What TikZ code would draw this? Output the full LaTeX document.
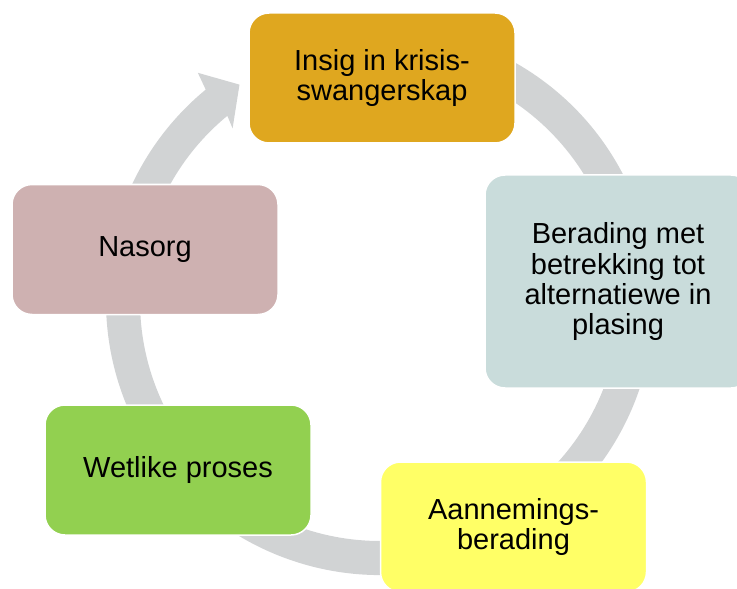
\documentclass[tikz,border=0pt]{standalone}
\usepackage{fontspec}
\setmainfont{Liberation Sans}
\usepackage{tikz}
\usetikzlibrary{positioning}
\usepackage{xcolor}

\definecolor{ringgray}{HTML}{D1D3D4}
\definecolor{insiggold}{HTML}{DFA71F}
\definecolor{beradingblue}{HTML}{C9DCDB}
\definecolor{aannemingyellow}{HTML}{FFFF66}
\definecolor{wetlikegreen}{HTML}{92D050}
\definecolor{nasorgpink}{HTML}{CEB1B1}

\begin{document}
\begin{tikzpicture}[x=0.5pt,y=-0.5pt,
  stagebox/.style={draw=white, line width=0.75pt, rounded corners=10pt,
    minimum width=133pt, minimum height=65pt, inner sep=0pt, align=center,
    font=\fontsize{14.5}{15}\selectfont, text=black}]

\clip (0,0) rectangle (737,588);

 \begin{scope}[shift={(380,301)}]
{
% the cycle arrow behind the boxes
\fill[ringgray] (-112:274) arc[start angle=-112, end angle=230.5, radius=274]
  --(231.4:292)--(237:258)--(229.5:227)--(230.5:240)
  arc[start angle=230.5, end angle=-112, radius=240]--cycle;
}
\end{scope}

\node[stagebox, fill=insiggold] (insig) at (382,78) {Insig in krisis-\\swangerskap};
\node[stagebox, fill=beradingblue, minimum height=106.5pt] (berading) at (618,281.5) {Berading met\\betrekking tot\\alternatiewe in\\plasing};
\node[stagebox, fill=aannemingyellow] (aanneming) at (513.5,527) {Aannemings-\\berading};
\node[stagebox, fill=wetlikegreen] (wetlike) at (178,470) {Wetlike proses};
\node[stagebox, fill=nasorgpink] (nasorg) at (145,249.5) {Nasorg};

\end{tikzpicture}
\end{document}
